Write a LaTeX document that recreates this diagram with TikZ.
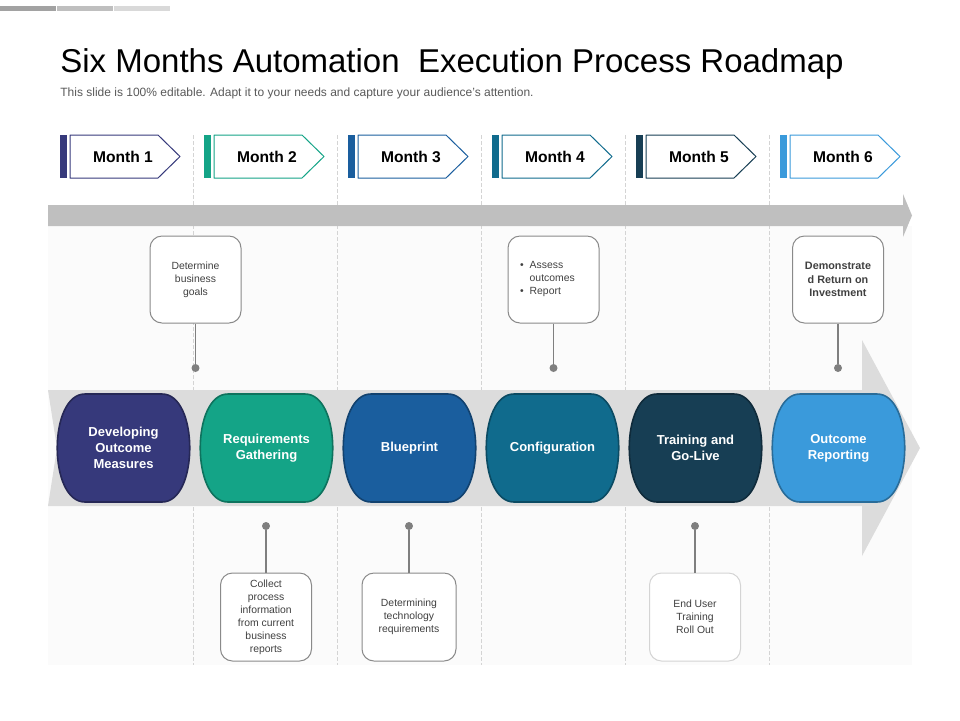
\documentclass[tikz,border=0pt]{standalone}
\usepackage{fontspec}
\setmainfont{Liberation Sans}
\usepackage{tikz}
\usetikzlibrary{arrows}

\definecolor{mone}{HTML}{36397B}
\definecolor{mtwo}{HTML}{14A487}
\definecolor{mthree}{HTML}{1A5E9E}
\definecolor{mfour}{HTML}{106B8D}
\definecolor{mfive}{HTML}{173E54}
\definecolor{msix}{HTML}{3A9ADB}
\definecolor{bandgray}{HTML}{BFBFBF}
\definecolor{arrowgray}{HTML}{DCDCDC}
\definecolor{panelgray}{HTML}{FBFBFB}
\definecolor{sepgray}{HTML}{D4D4D4}
\definecolor{boxline}{HTML}{8A8A8A}
\definecolor{pingray}{HTML}{7F7F7F}
\definecolor{notetext}{HTML}{404040}
\definecolor{subgray}{HTML}{595959}

\tikzset{
  tabtext/.style={font=\fontsize{7.8}{9}\selectfont\bfseries,text=black},
  phasetext/.style={font=\fontsize{6.5}{8}\selectfont\bfseries,text=white,align=center},
  notebox/.style={draw=boxline,line width=0.5pt,rounded corners=6pt,fill=white,
    minimum width=45.5pt,minimum height=43.5pt,align=center,text=notetext,
    font=\fontsize{5.2}{6.5}\selectfont,inner sep=1pt},
  pin/.style={circle,fill=pingray,inner sep=0pt,minimum size=4pt},
  stem/.style={draw=pingray,line width=0.6pt},
}

\begin{document}
\begin{tikzpicture}[x=0.5pt,y=-0.5pt,line join=round]
        \useasboundingbox (0,0) rectangle (960,720);
        % header
        \fill[color=bandgray!85!black] (0,6) rectangle (56,11);
        \fill[color=bandgray] (57,6) rectangle (113,11);
        \fill[color=bandgray!60] (114,6) rectangle (170,11);
        \node[anchor=base west,inner sep=0pt,font=\fontsize{16.5}{18}\selectfont] (title) at (60,72) {Six Months Automation\ \ Execution Process Roadmap};
        \node[anchor=base west,inner sep=0pt,font=\fontsize{6}{7}\selectfont,text=subgray] (subtitle) at (60,96.5) {This slide is 100\% editable. Adapt it to your needs and capture your audience's attention.};
        % panel and separators
        \fill[color=panelgray] (48,226) rectangle (912,665);
        \draw[color=sepgray,dashed,dash pattern=on 2pt off 1pt,line width=0.4pt] (193,135) -- (193,665);
        \draw[color=sepgray,dashed,dash pattern=on 2pt off 1pt,line width=0.4pt] (337,135) -- (337,665);
        \draw[color=sepgray,dashed,dash pattern=on 2pt off 1pt,line width=0.4pt] (481,135) -- (481,665);
        \draw[color=sepgray,dashed,dash pattern=on 2pt off 1pt,line width=0.4pt] (625,135) -- (625,665);
        \draw[color=sepgray,dashed,dash pattern=on 2pt off 1pt,line width=0.4pt] (769,135) -- (769,665);
        % month tabs
        \fill[color=mone] (60,135) rectangle (67,178);
        \draw[color=mone,fill=white,line width=0.5pt] (70,135) -- (158,135) -- (180,156.5) -- (158,178) -- (70,178) -- cycle;
        \node[tabtext] (m1) at (123,157) {Month 1};
        \fill[color=mtwo] (204,135) rectangle (211,178);
        \draw[color=mtwo,fill=white,line width=0.5pt] (214,135) -- (302,135) -- (324,156.5) -- (302,178) -- (214,178) -- cycle;
        \node[tabtext] (m2) at (267,157) {Month 2};
        \fill[color=mthree] (348,135) rectangle (355,178);
        \draw[color=mthree,fill=white,line width=0.5pt] (358,135) -- (446,135) -- (468,156.5) -- (446,178) -- (358,178) -- cycle;
        \node[tabtext] (m3) at (411,157) {Month 3};
        \fill[color=mfour] (492,135) rectangle (499,178);
        \draw[color=mfour,fill=white,line width=0.5pt] (502,135) -- (590,135) -- (612,156.5) -- (590,178) -- (502,178) -- cycle;
        \node[tabtext] (m4) at (555,157) {Month 4};
        \fill[color=mfive] (636,135) rectangle (643,178);
        \draw[color=mfive,fill=white,line width=0.5pt] (646,135) -- (734,135) -- (756,156.5) -- (734,178) -- (646,178) -- cycle;
        \node[tabtext] (m5) at (699,157) {Month 5};
        \fill[color=msix] (780,135) rectangle (787,178);
        \draw[color=msix,fill=white,line width=0.5pt] (790,135) -- (878,135) -- (900,156.5) -- (878,178) -- (790,178) -- cycle;
        \node[tabtext] (m6) at (843,157) {Month 6};
        % timeline arrows
        \fill[color=bandgray] (48,205) -- (903,205) -- (903,194) -- (912,215.5) -- (903,237) -- (903,226) -- (48,226) -- cycle;
        \fill[color=arrowgray] (48,390) -- (862,390) -- (862,340) -- (920,448) -- (862,556) -- (862,506) -- (48,506) -- (57,448) -- cycle;
        % phases
        \draw[color=mone!70!black,fill=mone,line width=0.8pt,shift={(57,394)}] (28,0) -- (105,0) .. controls (142,0) and (142,108) .. (105,108) -- (28,108) .. controls (-9,108) and (-9,0) .. cycle;
        \node[phasetext] (p1) at (123.5,448) {Developing\\Outcome\\Measures};
        \draw[color=mtwo!70!black,fill=mtwo,line width=0.8pt,shift={(200,394)}] (28,0) -- (105,0) .. controls (142,0) and (142,108) .. (105,108) -- (28,108) .. controls (-9,108) and (-9,0) .. cycle;
        \node[phasetext] (p2) at (266.5,448) {Requirements\\Gathering};
        \draw[color=mthree!70!black,fill=mthree,line width=0.8pt,shift={(343,394)}] (28,0) -- (105,0) .. controls (142,0) and (142,108) .. (105,108) -- (28,108) .. controls (-9,108) and (-9,0) .. cycle;
        \node[phasetext] (p3) at (409.5,448) {Blueprint};
        \draw[color=mfour!70!black,fill=mfour,line width=0.8pt,shift={(486,394)}] (28,0) -- (105,0) .. controls (142,0) and (142,108) .. (105,108) -- (28,108) .. controls (-9,108) and (-9,0) .. cycle;
        \node[phasetext] (p4) at (552.5,448) {Configuration};
        \draw[color=mfive!70!black,fill=mfive,line width=0.8pt,shift={(629,394)}] (28,0) -- (105,0) .. controls (142,0) and (142,108) .. (105,108) -- (28,108) .. controls (-9,108) and (-9,0) .. cycle;
        \node[phasetext] (p5) at (695.5,448) {Training and\\Go-Live};
        \draw[color=msix!70!black,fill=msix,line width=0.8pt,shift={(772,394)}] (28,0) -- (105,0) .. controls (142,0) and (142,108) .. (105,108) -- (28,108) .. controls (-9,108) and (-9,0) .. cycle;
        \node[phasetext] (p6) at (838.5,448) {Outcome\\Reporting};
        % notes above
        \node[notebox] (n1) at (195.5,279.5) {Determine\\business\\goals};
        \node[pin] (d1) at (195.5,368) {};
        \draw[stem] (n1.south) -- (d1);
        \node[notebox] (n4) at (553.5,279.5) {};
        \node[anchor=west,align=left,text=notetext,font=\fontsize{5.2}{6.5}\selectfont] (t4) at (513,279) {\textbullet\hspace{3pt}Assess\\\phantom{\textbullet}\hspace{3pt}outcomes\\\textbullet\hspace{3pt}Report};
        \node[pin] (d4) at (553.5,368) {};
        \draw[stem] (n4.south) -- (d4);
        \node[notebox,font=\fontsize{5.4}{6.8}\selectfont\bfseries] (n6) at (838,279.5) {Demonstrate\\d Return on\\Investment};
        \node[pin] (d6) at (838,368) {};
        \draw[stem] (n6.south) -- (d6);
        % notes below
        \node[pin] (d2) at (266,526) {};
        \node[notebox,minimum height=44pt] (n2) at (266,617) {Collect\\process\\information\\from current\\business\\reports};
        \draw[stem] (d2) -- (n2.north);
        \node[pin] (d3) at (409,526) {};
        \node[notebox,minimum width=47pt,minimum height=44pt] (n3) at (409,617) {Determining\\technology\\requirements};
        \draw[stem] (d3) -- (n3.north);
        \node[pin] (d5) at (695,526) {};
        \node[notebox,draw=sepgray,minimum height=44pt] (n5) at (695,617) {End User\\Training\\Roll Out};
        \draw[stem] (d5) -- (n5.north);
      \end{tikzpicture}
\end{document}
